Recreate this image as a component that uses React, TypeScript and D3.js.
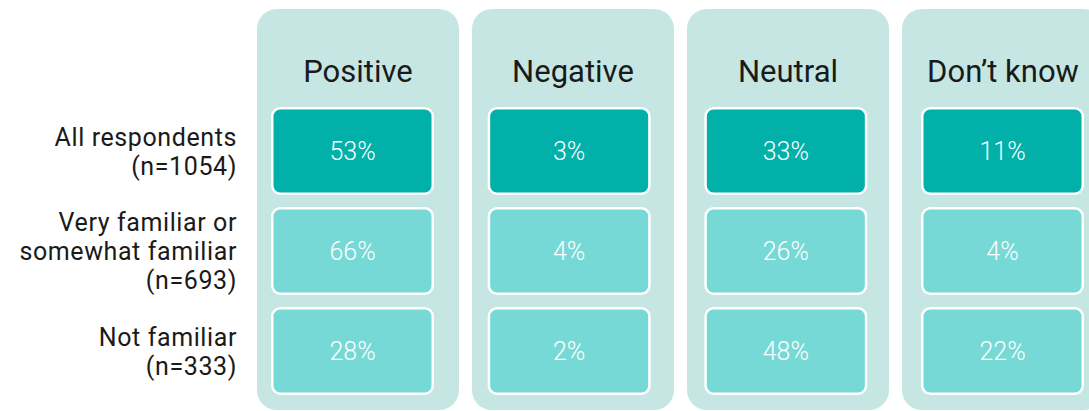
import React from "react";
import * as d3 from "d3";

const columns = ["Positive", "Negative", "Neutral", "Don\u2019t know"];
const rowLabels = [
  ["All respondents", "(n=1054)"],
  ["Very familiar or", "somewhat familiar", "(n=693)"],
  ["Not familiar", "(n=333)"],
];
const allRespondents = [53, 3, 33, 11];
const familiar = [66, 4, 26, 4];
const notFamiliar = [28, 2, 48, 22];
const rowsData = [allRespondents, familiar, notFamiliar];

const W = 1089;
const H = 411;

export default function App() {
  const idx = d3.range(columns.length);
  const panelX = d3.scaleLinear().domain([0, 3]).range([257, 902]);
  const cellX = d3.scaleLinear().domain([0, 3]).range([271, 921]);
  const rowY = d3.scaleLinear().domain([0, 2]).range([107, 307]);
  const panelW = 202;
  const cellW = 163;
  const cellH = 88;
  const fmt = (v: number) => `${v}%`;
  const font = "Roboto, 'DejaVu Sans', sans-serif";

  return (
    <svg
      width={W}
      height={H}
      style={{ position: "absolute", left: 0, top: 0, display: "block" }}
    >
      <rect width={W} height={H} fill="#ffffff" />
      {idx.map((i) => (
        <g key={i}>
          <rect
            x={panelX(i)}
            y={9}
            width={panelW}
            height={401}
            rx={20}
            ry={20}
            fill="#c5e6e3"
          />
          <text
            x={panelX(i) + panelW / 2}
            y={82}
            textAnchor="middle"
            fontFamily={font}
            fontSize={31}
            fontWeight={400}
            fill="#1a1a1a"
          >
            {columns[i]}
          </text>
          {rowsData.map((row, r) => (
            <g key={r}>
              <rect
                x={cellX(i) + 1.25}
                y={rowY(r) + 1.25}
                width={cellW - 2.5}
                height={cellH - 2.5}
                rx={8}
                ry={8}
                fill={r === 0 ? "#00b0a9" : "#76d9d6"}
                stroke="#ffffff"
                strokeWidth={2.5}
              />
              <text
                x={cellX(i) + cellW / 2}
                y={rowY(r) + cellH / 2}
                dy="0.36em"
                textAnchor="middle"
                fontFamily={font}
                fontSize={25}
                fontWeight={300}
                fill="#ffffff"
              >
                {fmt(row[i])}
              </text>
            </g>
          ))}
        </g>
      ))}
      {rowLabels.map((lines, r) => {
        const cy = rowY(r) + cellH / 2;
        const lh = 29;
        const start = cy - ((lines.length - 1) * lh) / 2;
        return (
          <text
            key={r}
            textAnchor="end"
            fontFamily={font}
            fontSize={25}
            letterSpacing={0.6}
            fill="#1a1a1a"
          >
            {lines.map((l, k) => (
              <tspan key={k} x={237} y={start + k * lh} dy="0.36em">
                {l}
              </tspan>
            ))}
          </text>
        );
      })}
    </svg>
  );
}
